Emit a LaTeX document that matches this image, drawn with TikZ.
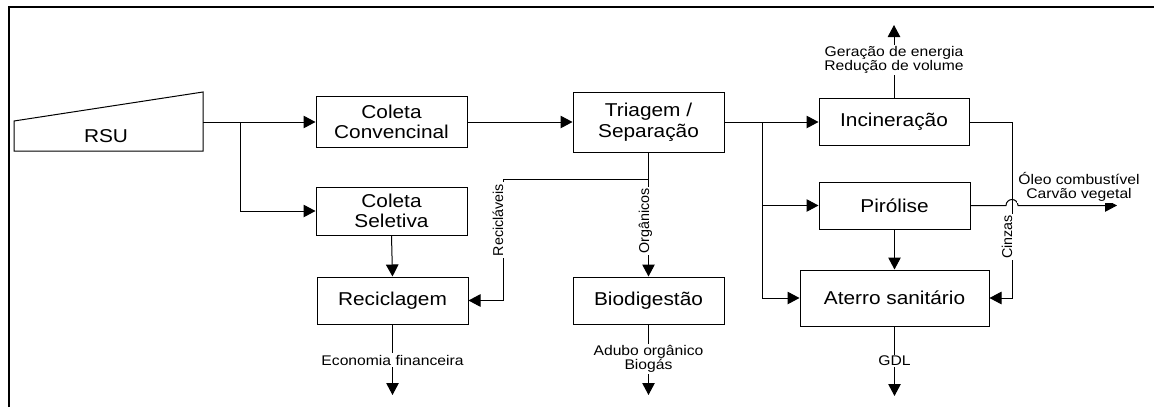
\documentclass[tikz,border=0pt]{standalone}
\usepackage{fontspec}
\setmainfont{Liberation Sans}
\newfontfamily\hfont[FakeStretch=1.12]{Liberation Sans}
\newfontfamily\vfont{Liberation Sans}
\usetikzlibrary{arrows.meta}
\begin{document}
\begin{tikzpicture}[x=1pt,y=-1pt,
  box/.style={draw,line width=1pt,align=center,inner sep=0pt,font=\hfont\fontsize{18.6}{20.5}\selectfont},
  arr/.style={-{Triangle[length=12pt,width=12.5pt]},line width=1pt},
  lbl/.style={fill=white,inner sep=1.5pt,align=center,font=\hfont\fontsize{14}{14.5}\selectfont},
  vlbl/.style={fill=white,inner sep=1.5pt,rotate=90,anchor=base,font=\vfont\fontsize{14.3}{14.5}\selectfont},
  frameline/.style={line width=2pt}]
\useasboundingbox (0,0) rectangle (1154,407);
% frame
\draw[frameline] (9,407) -- (9,7) -- (1154,7);
% RSU
\draw[line width=1pt] (14,121) -- (203,92) -- (203,151) -- (14,151) -- cycle;
\node[font=\hfont\fontsize{18.6}{20.5}\selectfont] (rsu) at (106,136) {RSU};
\coordinate (rsuout) at (203,122);
% boxes
\node[box,minimum width=151,minimum height=51] (cc) at (391.5,122) {Coleta\\Convencinal};
\node[box,minimum width=151,minimum height=60] (tri) at (648.5,122) {Triagem /\\Separação};
\node[box,minimum width=151,minimum height=48] (cs) at (391.5,211) {Coleta\\Seletiva};
\node[box,minimum width=151,minimum height=47] (rec) at (392.5,300.5) {Reciclagem};
\node[box,minimum width=151,minimum height=47] (bio) at (648.5,300.5) {Biodigestão};
\node[box,minimum width=150,minimum height=47] (inc) at (894,122) {Incineração};
\node[box,minimum width=151,minimum height=47] (pir) at (894.5,205.5) {Pirólise};
\node[box,minimum width=189,minimum height=56] (ate) at (894.5,298) {Aterro sanitário};
% coordinates
\coordinate (b1) at (240,122);
\coordinate (j2) at (503,179);
\coordinate (b2) at (762,122);
\coordinate (t1) at (894,25);
\coordinate (c1) at (1012,298);
\coordinate (hopL) at (1006,205.5);
\coordinate (o1) at (1117,205.5);
\coordinate (recout) at (392.5,395);
\coordinate (bioout) at (648.5,395);
\coordinate (ateout) at (894.5,396);
% connectors
\draw[arr] (rsuout) -- (cc.west);
\draw[arr] (b1) |- (cs.west);
\draw[arr] (cc.east) -- (tri.west);
\draw[arr] (cs.south) -- (rec.north);
\draw[arr] (tri.south) |- (j2) |- (rec.east);
\draw[arr] (tri.south) -- (bio.north);
\draw[arr] (tri.east) -- (inc.west);
\draw[arr] (b2) |- (pir.west);
\draw[arr] (b2) |- (ate.west);
\draw[arr] (inc.north) -- (t1);
\draw[arr] (inc.east) -| (c1) -- (ate.east);
\draw[arr] (pir.east) -- (hopL) arc[start angle=180,end angle=0,radius=6pt] -- (o1);
\draw[arr] (pir.south) -- (ate.north);
\draw[arr] (ate.south) -- (ateout);
\draw[arr] (rec.south) -- (recout);
\draw[arr] (bio.south) -- (bioout);
% labels
\node[vlbl] (lrec) at (503,220) {Recicláveis};
\node[vlbl] (lorg) at (649,221) {Orgânicos};
\node[vlbl] (lcin) at (1012,237) {Cinzas};
\node[lbl] (linc) at (894,60) {Geração de energia\\Redução de volume};
\node[lbl] (lpir) at (1079,187) {Óleo combustível\\Carvão vegetal};
\node[lbl] (lrecout) at (392.5,360) {Economia financeira};
\node[lbl] (lbioout) at (648.5,359) {Adubo orgânico\\Biogás};
\node[lbl] (late) at (894.5,361) {GDL};
\end{tikzpicture}
\end{document}
